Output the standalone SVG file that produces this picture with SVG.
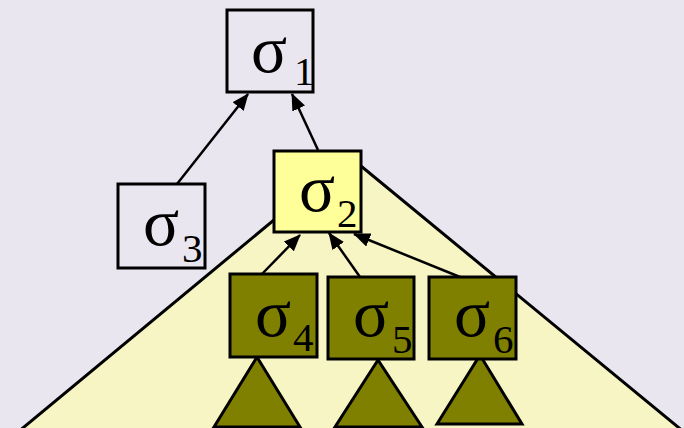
<svg xmlns="http://www.w3.org/2000/svg" width="684" height="428" viewBox="0 0 684 428">
  <defs>
    <marker id="arrow" viewBox="0 0 17 14" refX="16" refY="7" markerWidth="17" markerHeight="14" markerUnits="userSpaceOnUse" orient="auto">
      <path d="M0,0 L17,7 L0,14 z" fill="#000"/>
    </marker>
  </defs>
  <style>
    .box { stroke: #000; stroke-width: 3; }
    .plain { fill: #EAE6F0; }
    .light { fill: #FFFF99; }
    .olive { fill: #808000; }
    .sub-tree { fill: #808000; stroke: #000; stroke-width: 3; stroke-linejoin: miter; }
    .sig { font-family: "Liberation Serif", "Times New Roman", serif; font-size: 67px; fill: #000; }
    .idx { font-family: "Liberation Serif", "Times New Roman", serif; font-size: 41px; fill: #000; }
    .edge { stroke: #000; stroke-width: 2.5; fill: none; marker-end: url(#arrow); }
  </style>

  <!-- background -->
  <rect x="0" y="0" width="684" height="428" fill="#EAE6F0"/>

  <!-- subtree spanned below sigma-2 -->
  <polygon points="350,157 18,432 684,432" fill="#F7F5C4" stroke="#000" stroke-width="3"/>

  <!-- small subtrees below the leaves -->
  <polygon class="sub-tree" points="257,357 214,427 300,427"/>
  <polygon class="sub-tree" points="378,360 335,427 422,427"/>
  <polygon class="sub-tree" points="480,355 437,424 522,424"/>

  <g id="connectors">
    <line class="edge" x1="177" y1="184" x2="248" y2="94"/>
    <line class="edge" x1="318" y1="150" x2="292" y2="94"/>
    <line class="edge" x1="262" y1="274" x2="300" y2="235"/>
    <line class="edge" x1="360" y1="277" x2="329" y2="233"/>
    <line class="edge" x1="460" y1="277" x2="354" y2="234"/>
  </g>

  <g id="s1">
    <rect class="box plain" x="227" y="10" width="86" height="82"/>
    <text class="sig" x="251" y="72">σ</text>
    <text class="idx" x="294" y="85">1</text>
  </g>

  <g id="s2">
    <rect class="box light" x="274" y="151" width="87" height="81"/>
    <text class="sig" x="299" y="211">σ</text>
    <text class="idx" x="337" y="227">2</text>
  </g>

  <g id="s3">
    <rect class="box plain" x="118" y="184" width="87" height="84"/>
    <text class="sig" x="143" y="245">σ</text>
    <text class="idx" x="182" y="262">3</text>
  </g>

  <g id="s4">
    <rect class="box olive" x="230" y="274" width="87" height="83"/>
    <text class="sig" x="255" y="336">σ</text>
    <text class="idx" x="293" y="351">4</text>
  </g>

  <g id="s5">
    <rect class="box olive" x="328" y="277" width="86" height="82"/>
    <text class="sig" x="353" y="336">σ</text>
    <text class="idx" x="392" y="353">5</text>
  </g>

  <g id="s6">
    <rect class="box olive" x="429" y="277" width="87" height="82"/>
    <text class="sig" x="454" y="336">σ</text>
    <text class="idx" x="493" y="353">6</text>
  </g>
</svg>
